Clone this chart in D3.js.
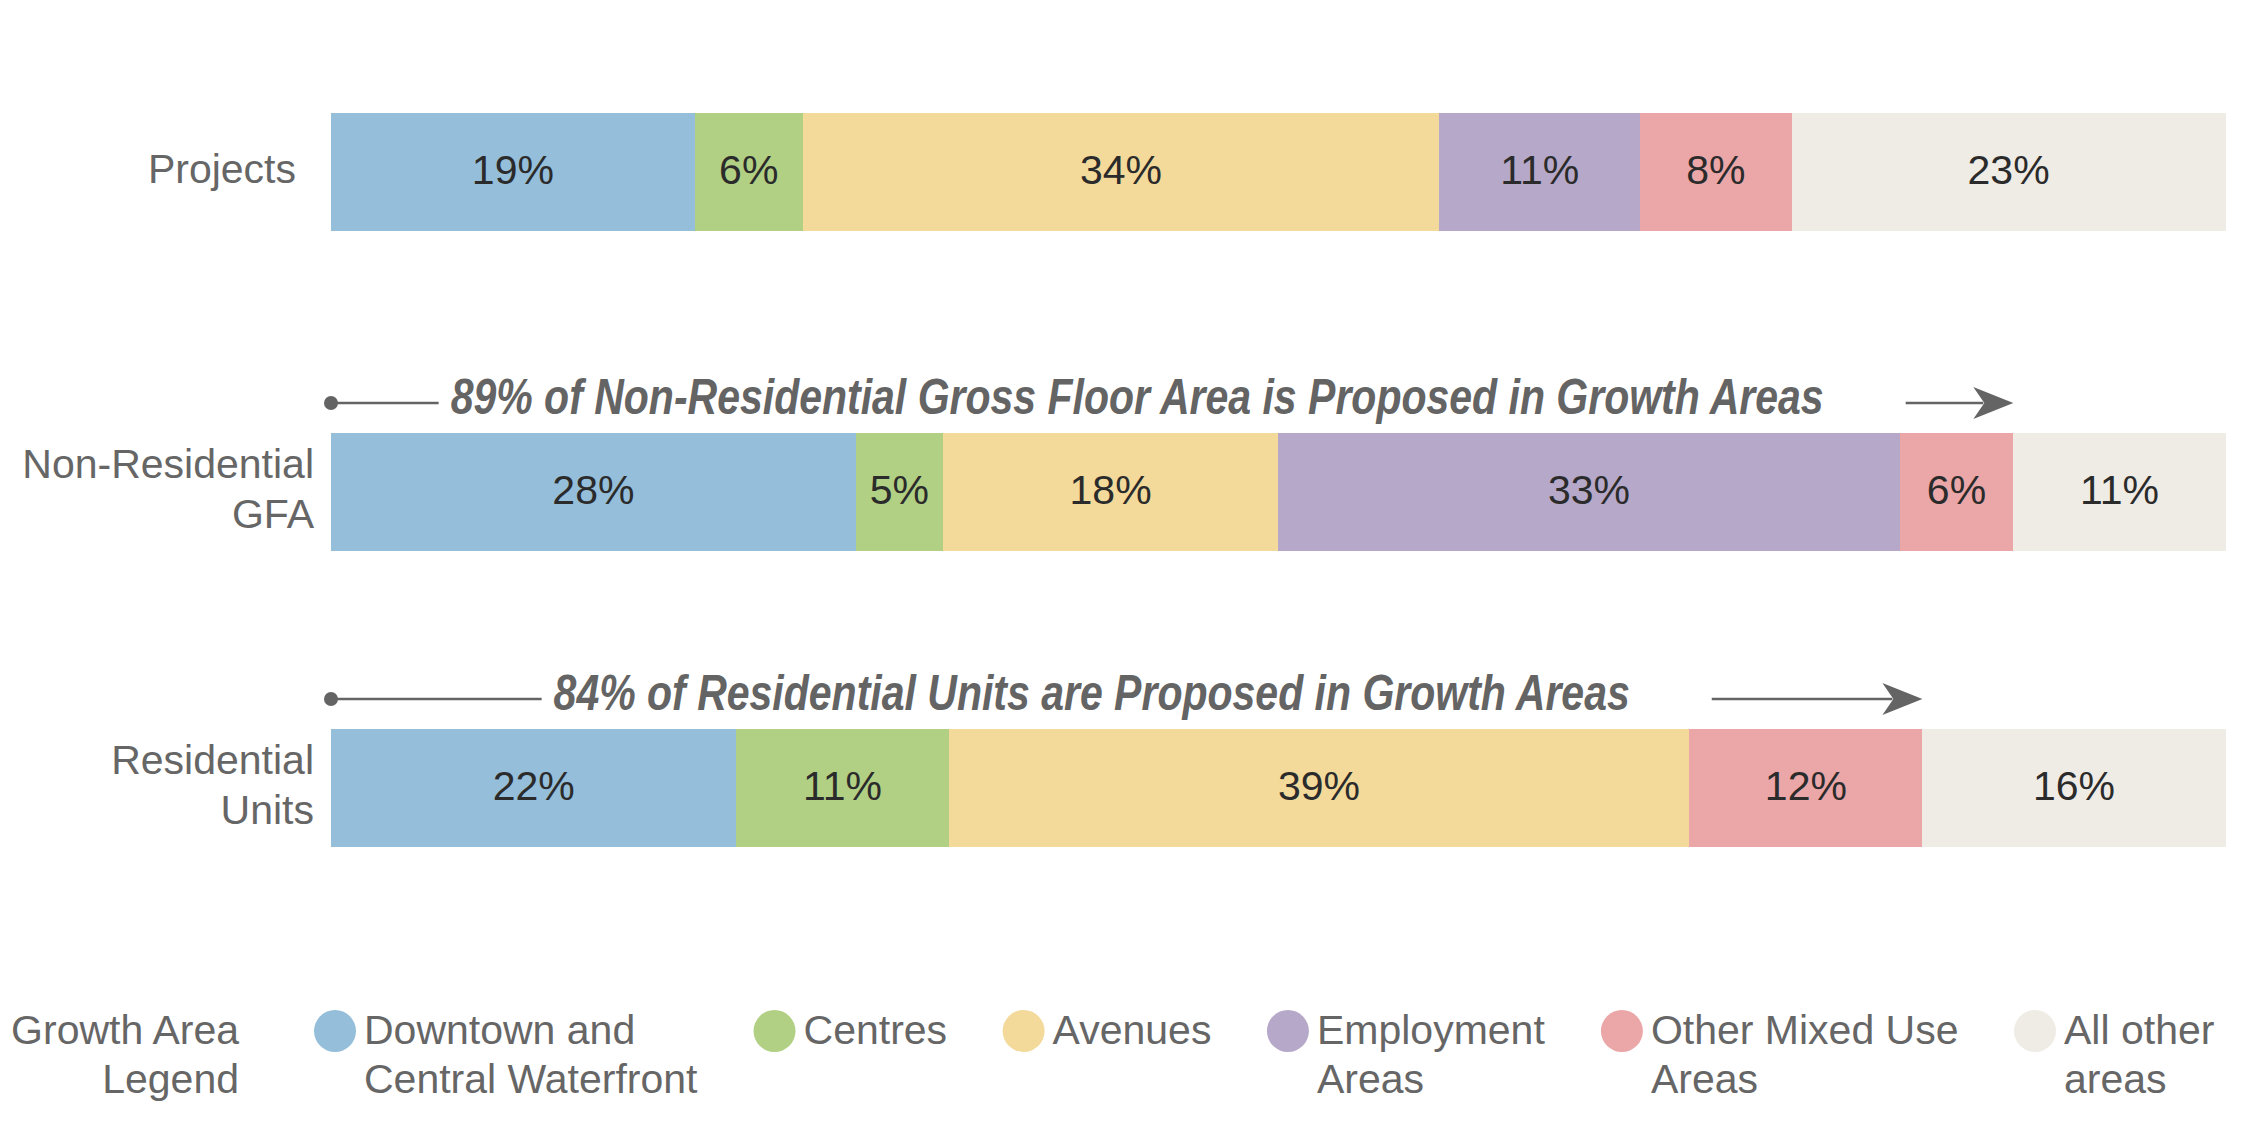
<!DOCTYPE html>
<html>
<head>
<meta charset="utf-8">
<script src="https://cdn.jsdelivr.net/npm/d3@7"></script>
<style>
  html, body { margin: 0; padding: 0; background: #fff; }
  svg { display: block; }
  text { font-family: "Liberation Sans", Arial, sans-serif; }
</style>
</head>
<body>
<svg id="chart" width="2251" height="1131"></svg>
<script>
// ---------- DATA ----------
const categories = ["Projects", "Non-Residential GFA", "Residential Units"];
const categoryLines = [["Projects"], ["Non-Residential", "GFA"], ["Residential", "Units"]];

const areas = ["Downtown and Central Waterfront", "Centres", "Avenues", "Employment Areas", "Other Mixed Use Areas", "All other areas"];
const legendLines = [["Downtown and", "Central Waterfront"], ["Centres"], ["Avenues"], ["Employment", "Areas"], ["Other Mixed Use", "Areas"], ["All other", "areas"]];
const legendTitle = ["Growth Area", "Legend"];

// share of each area
const projectsValues    = [19.2, 5.7, 33.6, 10.6, 8.0, 22.9];
const gfaValues         = [27.7, 4.6, 17.7, 32.8, 6.0, 11.2];
const residentialValues = [21.4, 11.2, 39.1, 0, 12.3, 16.0];

// printed labels
const projectsLabels    = ["19%", "6%", "34%", "11%", "8%", "23%"];
const gfaLabels         = ["28%", "5%", "18%", "33%", "6%", "11%"];
const residentialLabels = ["22%", "11%", "39%", "", "12%", "16%"];

const annotationTexts = [null,
  "89% of Non-Residential Gross Floor Area is Proposed in Growth Areas",
  "84% of Residential Units are Proposed in Growth Areas"];

const colors = ["#94bed9", "#b1d084", "#f3da9b", "#b6a8c8", "#eba6a8", "#efece5"];

// ---------- LAYOUT ----------
const rows = [
  { cat: categories[0], lines: categoryLines[0], values: projectsValues, labels: projectsLabels, note: annotationTexts[0] },
  { cat: categories[1], lines: categoryLines[1], values: gfaValues, labels: gfaLabels, note: annotationTexts[1] },
  { cat: categories[2], lines: categoryLines[2], values: residentialValues, labels: residentialLabels, note: annotationTexts[2] }
];

const svg = d3.select("#chart");
const x = d3.scaleLinear().domain([0, 100]).range([331, 2225.5]);
const y = d3.scaleOrdinal().domain(categories).range([113, 433, 729]);
const barH = 118;
const color = d3.scaleOrdinal().domain(areas).range(colors);

const labelFont = 41;
const labelColor = "#666666";
const valueColor = "#2b2b2b";
const noteColor = "#646464";

rows.forEach(row => {
  const total = d3.sum(row.values);
  const ends = d3.cumsum(row.values.map(v => v / total * 100));
  const segs = row.values.map((v, i) => ({
    area: areas[i], x0: i === 0 ? 0 : ends[i - 1], x1: ends[i], label: row.labels[i]
  })).filter(s => s.x1 > s.x0);

  const top = y(row.cat);
  const cy = top + barH / 2;
  const g = svg.append("g");

  g.selectAll("rect").data(segs).join("rect")
    .attr("x", d => x(d.x0))
    .attr("y", top)
    .attr("width", d => x(d.x1) - x(d.x0))
    .attr("height", barH)
    .attr("fill", d => color(d.area))
    .attr("shape-rendering", "crispEdges");

  g.selectAll("text.val").data(segs).join("text")
    .attr("class", "val")
    .attr("x", d => (x(d.x0) + x(d.x1)) / 2)
    .attr("y", cy + 12)
    .attr("text-anchor", "middle")
    .attr("font-size", labelFont)
    .attr("fill", valueColor)
    .text(d => d.label);

  // category label
  const n = row.lines.length;
  const labX = n === 1 ? 296 : 314;
  const lab = g.append("text")
    .attr("text-anchor", "end")
    .attr("font-size", labelFont)
    .attr("fill", labelColor);
  row.lines.forEach((t, i) => {
    lab.append("tspan")
      .attr("x", labX)
      .attr("y", cy + 11 + (i - (n - 1) / 2) * 50)
      .text(t);
  });

  // annotation arrow
  if (row.note) {
    const growth = ends[4];
    const xStart = x(0), xTip = x(growth);
    const lineY = top - 30;
    const note = g.append("text")
      .attr("font-size", 50)
      .attr("font-weight", "bold")
      .attr("font-style", "italic")
      .attr("fill", noteColor)
      .attr("y", lineY + 11)
      .text(row.note);
    const natural = note.node().getComputedTextLength();
    const w = natural * 0.82;
    note.attr("textLength", w).attr("lengthAdjust", "spacingAndGlyphs");
    const gapL = 12, gapR = 82;
    const lineLen = ((xTip - xStart) - w - gapL - gapR) / 2;
    const textX = xStart + lineLen + gapL;
    note.attr("x", textX);

    g.append("circle").attr("cx", xStart).attr("cy", lineY).attr("r", 7).attr("fill", noteColor);
    g.append("line")
      .attr("x1", xStart).attr("x2", xStart + lineLen)
      .attr("y1", lineY).attr("y2", lineY)
      .attr("stroke", noteColor).attr("stroke-width", 2.5);
    const rStart = textX + w + gapR;
    g.append("line")
      .attr("x1", rStart).attr("x2", xTip - 30)
      .attr("y1", lineY).attr("y2", lineY)
      .attr("stroke", noteColor).attr("stroke-width", 2.5);
    g.append("path")
      .attr("d", `M${xTip},${lineY} L${xTip - 40},${lineY - 16} L${xTip - 29},${lineY} L${xTip - 40},${lineY + 16} Z`)
      .attr("fill", noteColor);
  }
});

// ---------- LEGEND ----------
const legY = 1031;
const lt = svg.append("text")
  .attr("text-anchor", "end")
  .attr("font-size", labelFont)
  .attr("fill", labelColor);
legendTitle.forEach((t, i) => {
  lt.append("tspan").attr("x", 239).attr("y", 1044 + i * 49).text(t);
});

let cx = 335;
areas.forEach((a, i) => {
  const gg = svg.append("g");
  gg.append("circle").attr("cx", cx).attr("cy", legY).attr("r", 21).attr("fill", color(a));
  const t = gg.append("text").attr("font-size", labelFont).attr("fill", labelColor);
  legendLines[i].forEach((s, j) => {
    t.append("tspan").attr("x", cx + 29).attr("y", 1044 + j * 49).text(s);
  });
  const w = t.node().getBBox().width;
  cx = cx + 29 + w + 76.5;
});
</script>
</body>
</html>
